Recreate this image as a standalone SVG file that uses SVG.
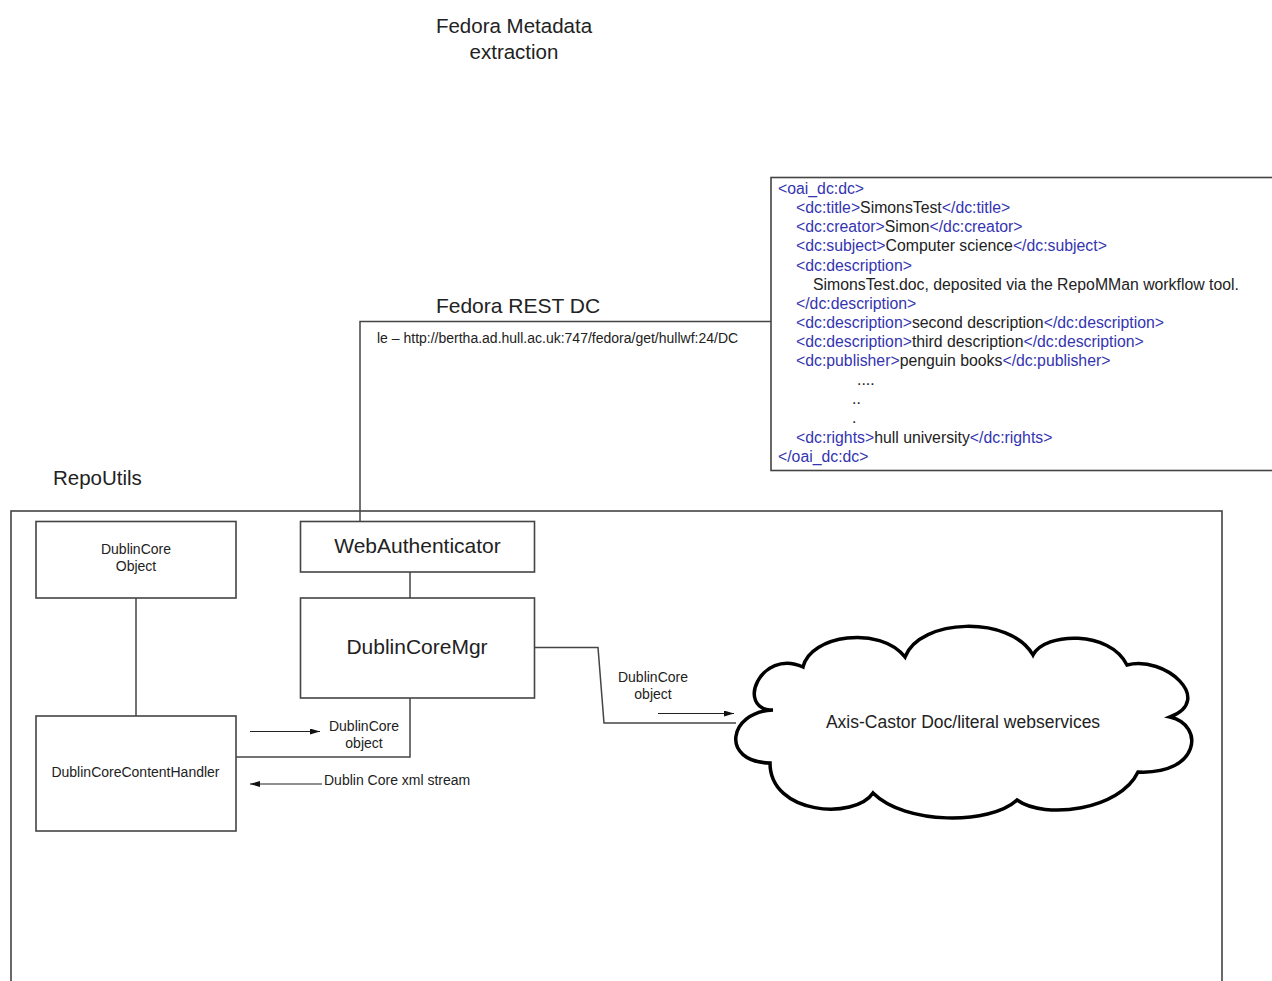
<svg xmlns="http://www.w3.org/2000/svg" width="1272" height="981" viewBox="0 0 1272 981">
<defs>
<style>
.t{font-family:"Liberation Sans",Arial,sans-serif;fill:#222}
.box{fill:#fff;stroke:#444;stroke-width:1.6}
.ln{fill:none;stroke:#444;stroke-width:1.5}
.ar{fill:none;stroke:#222;stroke-width:1.2}
.b{fill:#3434b0}
.x{font-family:"Liberation Sans",Arial,sans-serif;font-size:15.8px;fill:#222}
</style>
<marker id="ah" viewBox="0 0 10 6" refX="10" refY="3" markerWidth="10" markerHeight="6" markerUnits="userSpaceOnUse" orient="auto">
<path d="M0,0 L10,3 L0,6 Z" fill="#111"/>
</marker>
</defs>
<rect width="1272" height="981" fill="#fff"/>

<g id="titles">
<text class="t" x="514" y="33" font-size="20.5" text-anchor="middle">Fedora Metadata</text>
<text class="t" x="514" y="59" font-size="20.5" text-anchor="middle">extraction</text>
<text class="t" x="518" y="313" font-size="21" text-anchor="middle">Fedora REST DC</text>
<text class="t" x="377" y="343" font-size="14">le – http://bertha.ad.hull.ac.uk:747/fedora/get/hullwf:24/DC</text>
<text class="t" x="53" y="485" font-size="20.5">RepoUtils</text>
</g>

<g id="repoutils">
<rect class="box" x="11" y="511" width="1211" height="490"/>
</g>

<g id="xml-box">
<rect class="box" x="771" y="177.5" width="510" height="293"/>
<text class="x" x="778" y="194"><tspan class="b">&lt;oai_dc:dc&gt;</tspan></text>
<text class="x" x="796" y="213.1"><tspan class="b">&lt;dc:title&gt;</tspan>SimonsTest<tspan class="b">&lt;/dc:title&gt;</tspan></text>
<text class="x" x="796" y="232.2"><tspan class="b">&lt;dc:creator&gt;</tspan>Simon<tspan class="b">&lt;/dc:creator&gt;</tspan></text>
<text class="x" x="796" y="251.4"><tspan class="b">&lt;dc:subject&gt;</tspan>Computer science<tspan class="b">&lt;/dc:subject&gt;</tspan></text>
<text class="x" x="796" y="270.5"><tspan class="b">&lt;dc:description&gt;</tspan></text>
<text class="x" x="813" y="289.6">SimonsTest.doc, deposited via the RepoMMan workflow tool.</text>
<text class="x" x="796" y="308.7"><tspan class="b">&lt;/dc:description&gt;</tspan></text>
<text class="x" x="796" y="327.8"><tspan class="b">&lt;dc:description&gt;</tspan>second description<tspan class="b">&lt;/dc:description&gt;</tspan></text>
<text class="x" x="796" y="347"><tspan class="b">&lt;dc:description&gt;</tspan>third description<tspan class="b">&lt;/dc:description&gt;</tspan></text>
<text class="x" x="796" y="366.1"><tspan class="b">&lt;dc:publisher&gt;</tspan>penguin books<tspan class="b">&lt;/dc:publisher&gt;</tspan></text>
<text class="x" x="857" y="385" font-size="11" fill="#777">....</text>
<text class="x" x="852" y="404.3" font-size="11" fill="#777">..</text>
<text class="x" x="852" y="423.4" font-size="11" fill="#777">.</text>
<text class="x" x="796" y="442.6"><tspan class="b">&lt;dc:rights&gt;</tspan>hull university<tspan class="b">&lt;/dc:rights&gt;</tspan></text>
<text class="x" x="778" y="461.7"><tspan class="b">&lt;/oai_dc:dc&gt;</tspan></text>
</g>

<g id="connectors">
<path class="ln" d="M360,522 V321.5 H771"/>
<path class="ln" d="M410,572 V598"/>
<path class="ln" d="M136,598 V716"/>
<path class="ln" d="M410,698 V757 H236"/>
<path class="ln" d="M534,647.5 H598 L604,723 H736"/>
<path class="ar" d="M250,731.5 H320" marker-end="url(#ah)"/>
<path class="ar" d="M322,784 H250" marker-end="url(#ah)"/>
<path class="ar" d="M658,713.5 H734" marker-end="url(#ah)"/>
<text class="t" x="364" y="731" font-size="14" text-anchor="middle">DublinCore</text>
<text class="t" x="364" y="748" font-size="14" text-anchor="middle">object</text>
<text class="t" x="324" y="785" font-size="14">Dublin Core xml stream</text>
<text class="t" x="653" y="682" font-size="14" text-anchor="middle">DublinCore</text>
<text class="t" x="653" y="699" font-size="14" text-anchor="middle">object</text>
</g>

<g id="dublincore-object">
<rect class="box" x="36" y="521.5" width="200" height="76.5"/>
<text class="t" x="136" y="554" font-size="14" text-anchor="middle">DublinCore</text>
<text class="t" x="136" y="571" font-size="14" text-anchor="middle">Object</text>
</g>

<g id="webauthenticator">
<rect class="box" x="300.5" y="521.5" width="234" height="50.5"/>
<text class="t" x="417.5" y="553" font-size="21" text-anchor="middle">WebAuthenticator</text>
</g>

<g id="dublincoremgr">
<rect class="box" x="300.5" y="598" width="234" height="100"/>
<text class="t" x="417" y="654" font-size="21" text-anchor="middle">DublinCoreMgr</text>
</g>

<g id="contenthandler">
<rect class="box" x="36" y="716" width="200" height="115"/>
<text class="t" x="135.5" y="777" font-size="14" text-anchor="middle">DublinCoreContentHandler</text>
</g>

<g id="webservices-cloud">
<path d="M773,710 C735,710 760,648 803,667 C810,635 880,625 905,657 C920,618 1010,615 1033,655 C1045,632 1110,630 1127,665 C1165,655 1215,700 1170,717 C1205,725 1200,775 1138,772 C1120,810 1045,820 1017,800 C990,825 905,825 873,793 C855,820 770,815 770,763 C720,762 728,712 773,710 Z" fill="#fff" stroke="#000" stroke-width="3.5" stroke-linejoin="miter"/>
<text class="t" x="963" y="728" font-size="17.5" text-anchor="middle">Axis-Castor Doc/literal webservices</text>
</g>
</svg>
